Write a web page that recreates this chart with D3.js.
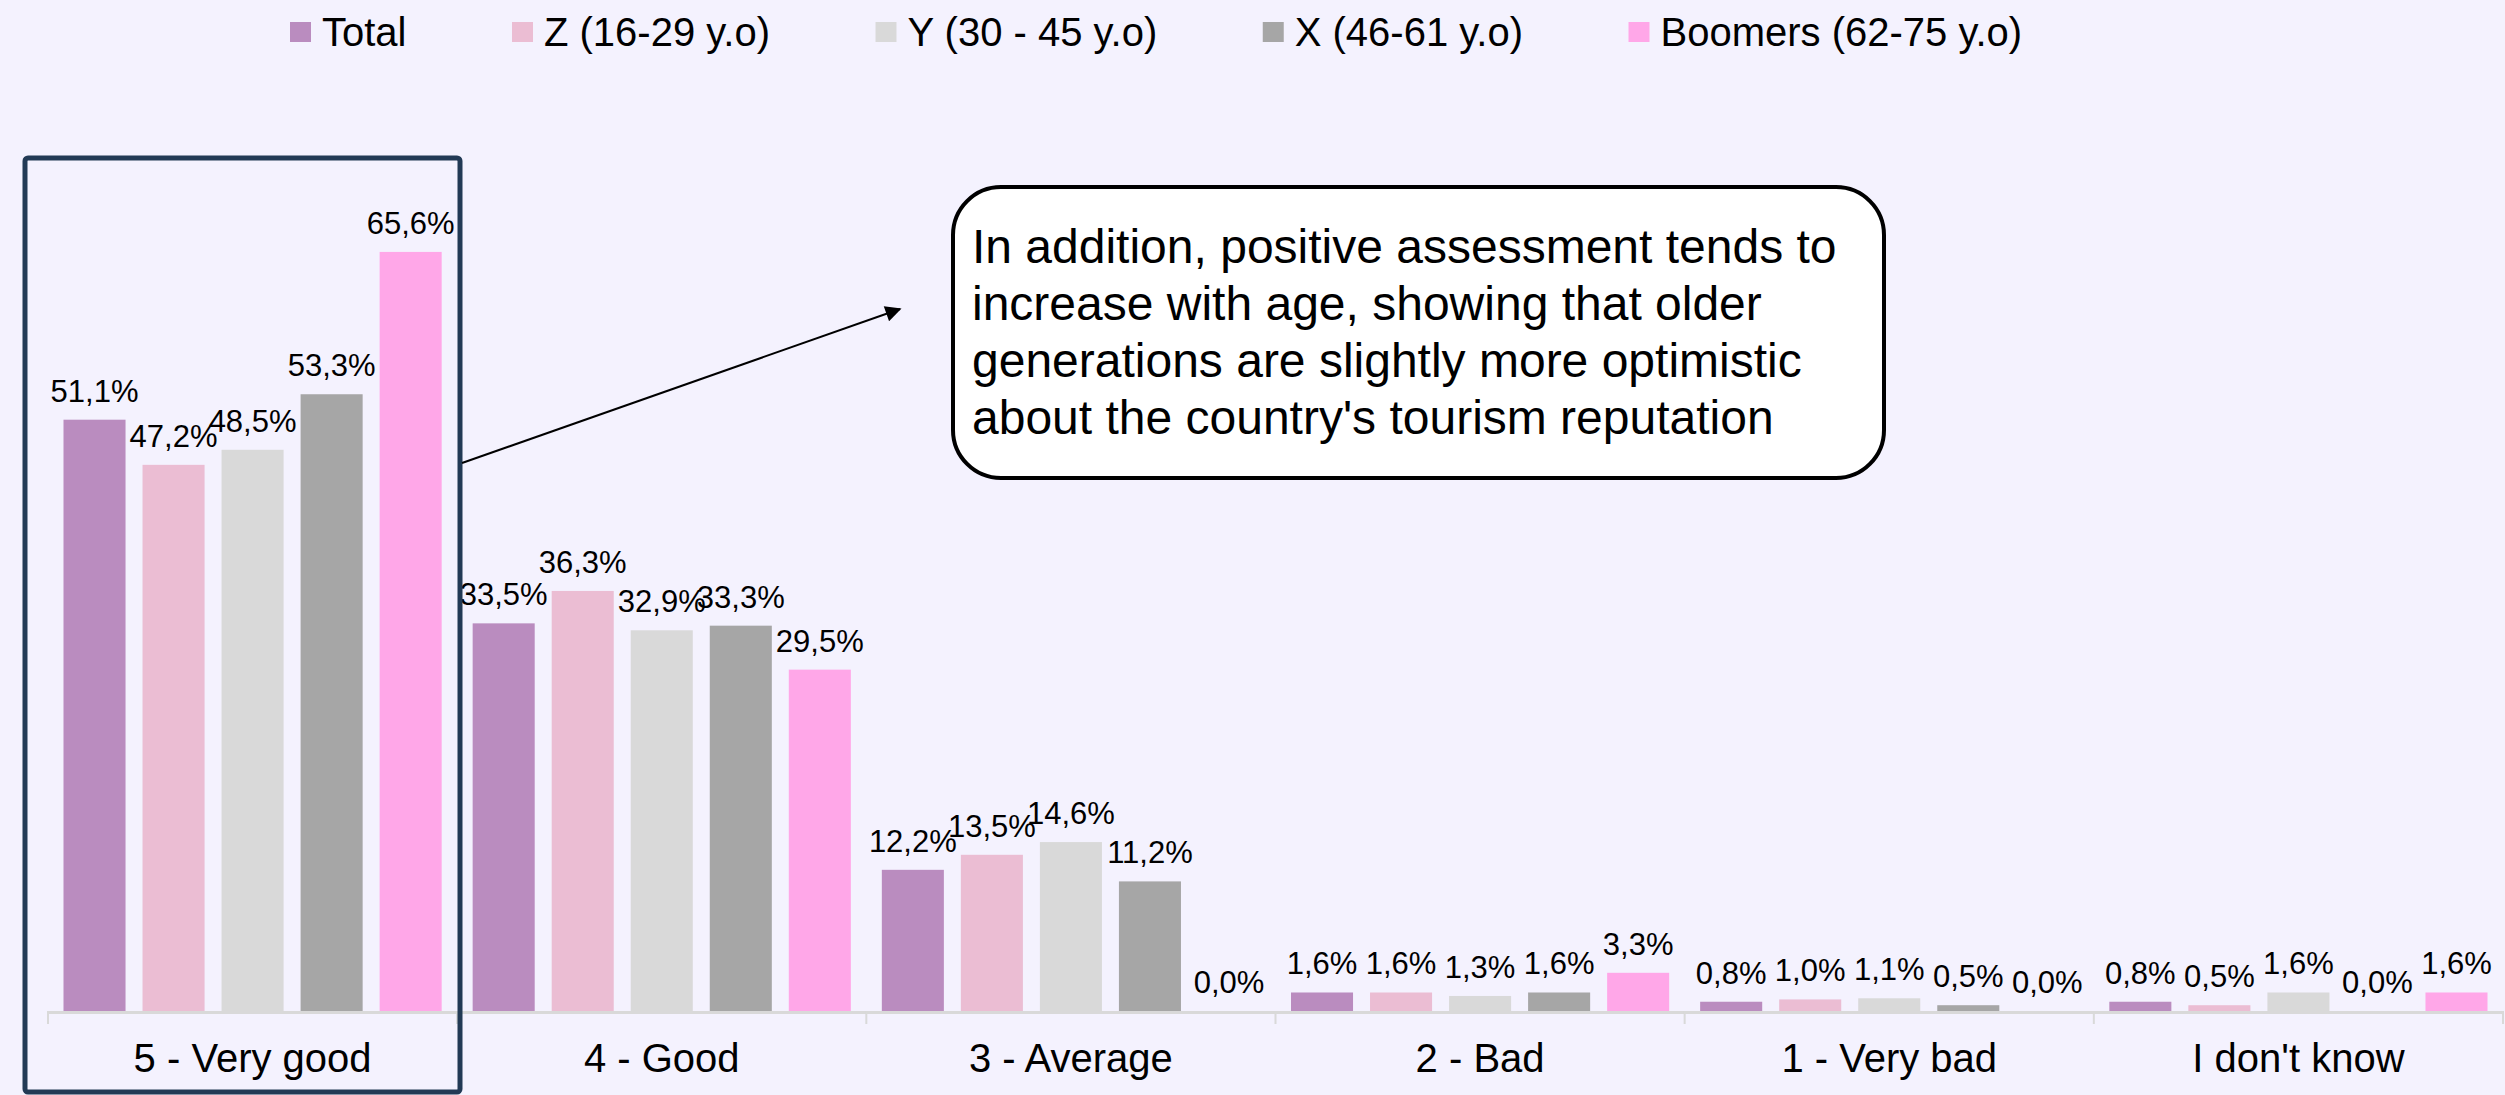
<!DOCTYPE html>
<html><head><meta charset="utf-8">
<script src="https://cdn.jsdelivr.net/npm/d3@7"></script>
<style>
html,body{margin:0;padding:0;background:#F4F2FE;}
svg{display:block;font-family:"Liberation Sans",Arial,sans-serif;}
</style></head>
<body>
<svg id="chart" width="2505" height="1095"></svg>
<script>
const categories = ["5 - Very good","4 - Good","3 - Average","2 - Bad","1 - Very bad","I don't know"];
const seriesNames = ["Total","Z (16-29 y.o)","Y (30 - 45 y.o)","X (46-61 y.o)","Boomers (62-75 y.o)"];
const totalValues   = [51.1, 33.5, 12.2, 1.6, 0.8, 0.8];
const zValues       = [47.2, 36.3, 13.5, 1.6, 1.0, 0.5];
const yValues       = [48.5, 32.9, 14.6, 1.3, 1.1, 1.6];
const xValues       = [53.3, 33.3, 11.2, 1.6, 0.5, 0.0];
const boomerValues  = [65.6, 29.5, 0.0, 3.3, 0.0, 1.6];
const seriesColors  = ["#BA8CBF","#EBBDD3","#D9D9D9","#A6A6A6","#FFA7E8"];
const annotationLines = [
  "In addition, positive assessment tends to",
  "increase with age, showing that older",
  "generations are slightly more optimistic",
  "about the country's tourism reputation"
];

const seriesValues = [totalValues, zValues, yValues, xValues, boomerValues];
const svg = d3.select("#chart");
const W = 2505, H = 1095;
svg.append("rect").attr("width", W).attr("height", H).attr("fill", "#F4F2FE");

const baseY = 1011;
const x0 = d3.scaleBand().domain(categories).range([48, 2503]).padding(0);
const x1 = d3.scaleBand().domain(seriesNames).range([0, x0.bandwidth()]).paddingInner(0.215).paddingOuter(0.196);
const y = d3.scaleLinear().domain([0, 70]).range([baseY, baseY - 810]);
const fmt = v => d3.format(".1f")(v).replace(".", ",") + "%";

// bars
const groups = svg.append("g").selectAll("g").data(categories).join("g")
  .attr("transform", c => `translate(${x0(c)},0)`);
groups.each(function(c, ci) {
  const g = d3.select(this);
  const d = seriesNames.map((s, si) => ({s, si, v: seriesValues[si][ci]}));
  g.selectAll("rect").data(d).join("rect")
    .attr("x", e => x1(e.s)).attr("width", x1.bandwidth())
    .attr("y", e => y(e.v)).attr("height", e => baseY - y(e.v))
    .attr("fill", e => seriesColors[e.si]);
  g.selectAll("text").data(d).join("text")
    .attr("x", e => x1(e.s) + x1.bandwidth() / 2)
    .attr("y", e => y(e.v) - 18)
    .attr("text-anchor", "middle").attr("font-size", 31).attr("fill", "#000")
    .text(e => fmt(e.v));
});

// axis line and boundary ticks
svg.append("line").attr("x1", 48).attr("x2", 2503).attr("y1", baseY + 1.5).attr("y2", baseY + 1.5)
  .attr("stroke", "#D9D9D9").attr("stroke-width", 3);
const bounds = categories.map(c => x0(c)).concat([x0.range()[1]]);
svg.append("g").selectAll("line").data(bounds).join("line")
  .attr("x1", d => d).attr("x2", d => d).attr("y1", baseY).attr("y2", baseY + 13)
  .attr("stroke", "#D9D9D9").attr("stroke-width", 2);

// category labels via d3 axis
const axis = svg.append("g").attr("transform", `translate(0,${baseY})`)
  .call(d3.axisBottom(x0).tickSize(0).tickPadding(0));
axis.select(".domain").remove();
axis.selectAll("text").attr("font-size", 40).attr("fill", "#000")
  .attr("font-family", "Liberation Sans, Arial, sans-serif")
  .attr("dy", null).attr("y", 61);

// legend
const legend = svg.append("g");
let lx = 290;
seriesNames.forEach((s, i) => {
  legend.append("rect").attr("x", lx).attr("y", 22).attr("width", 21).attr("height", 20).attr("fill", seriesColors[i]);
  const t = legend.append("text").attr("x", lx + 32).attr("y", 46).attr("font-size", 40).attr("fill", "#000").text(s);
  lx += 32 + t.node().getComputedTextLength() + 105.5;
});

// highlight box
svg.append("rect").attr("x", 25).attr("y", 158).attr("width", 435).attr("height", 934)
  .attr("rx", 3).attr("fill", "none").attr("stroke", "#223A55").attr("stroke-width", 5);

// arrow
svg.append("defs").append("marker").attr("id", "ah").attr("viewBox", "0 0 10 10")
  .attr("refX", 9).attr("refY", 5).attr("markerWidth", 22).attr("markerHeight", 16)
  .attr("markerUnits", "userSpaceOnUse").attr("orient", "auto")
  .append("path").attr("d", "M0,0 L10,5 L0,10 Z").attr("fill", "#000");
svg.append("line").attr("x1", 462).attr("y1", 463).attr("x2", 900).attr("y2", 309)
  .attr("stroke", "#000").attr("stroke-width", 2).attr("marker-end", "url(#ah)");

// annotation box
svg.append("rect").attr("x", 953).attr("y", 187).attr("width", 931).attr("height", 291)
  .attr("rx", 48).attr("fill", "#FFFFFF").attr("stroke", "#000").attr("stroke-width", 4);
svg.append("g").selectAll("text").data(annotationLines).join("text")
  .attr("x", 972).attr("y", (d, i) => 263 + i * 57)
  .attr("font-size", 48).attr("fill", "#000").text(d => d);
</script>
</body></html>
